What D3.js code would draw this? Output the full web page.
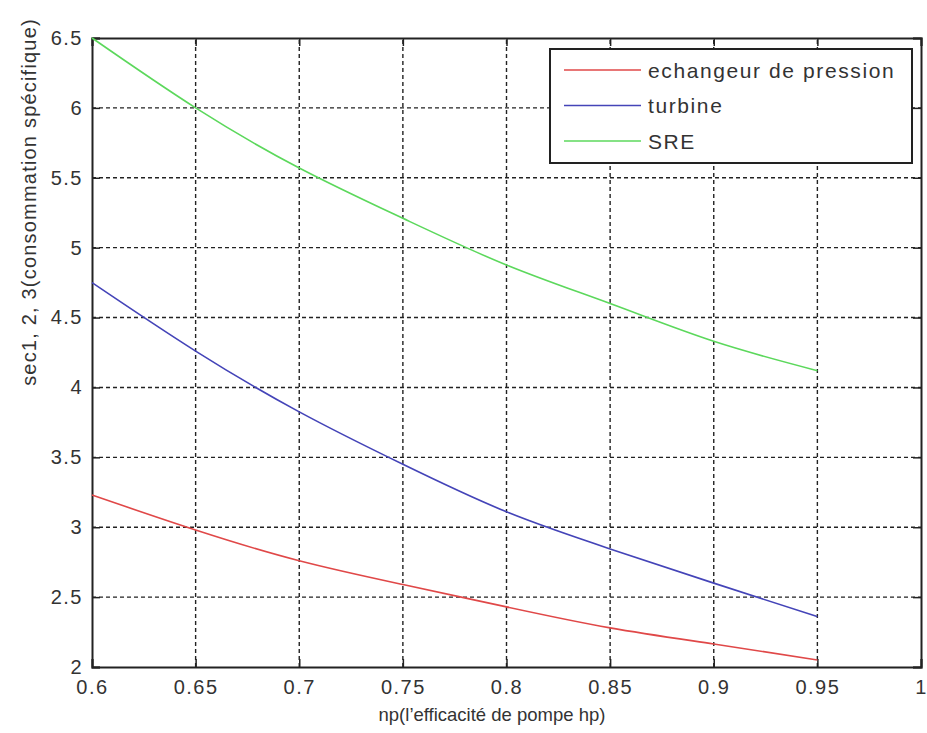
<!DOCTYPE html>
<html>
<head>
<meta charset="utf-8">
<script src="https://d3js.org/d3.v7.min.js"></script>
<style>
  body { margin: 0; background: #fff; }
  text { font-family: "Liberation Sans", Arial, sans-serif; fill: #333; }
</style>
</head>
<body>
<script>
// values
const np = [0.6, 0.65, 0.7, 0.75, 0.8, 0.85, 0.9, 0.95];
const echangeur = [3.23, 2.98, 2.76, 2.59, 2.43, 2.28, 2.165, 2.05];
const turbine = [4.75, 4.26, 3.825, 3.45, 3.11, 2.845, 2.60, 2.36];
const sre = [6.5, 6.0, 5.57, 5.21, 4.876, 4.60, 4.33, 4.12];
const seriesNames = ["echangeur de pression", "turbine", "SRE"];
const seriesColors = ["#e04848", "#4444b8", "#5cd85c"];
const xTicks = [0.6, 0.65, 0.7, 0.75, 0.8, 0.85, 0.9, 0.95, 1];
const yTicks = [2, 2.5, 3, 3.5, 4, 4.5, 5, 5.5, 6, 6.5];

const width = 927, height = 733;
const margin = {top: 38, right: 6, bottom: 66, left: 92};

const svg = d3.select("body").append("svg")
    .attr("width", width)
    .attr("height", height);

const x = d3.scaleLinear().domain([0.6, 1]).range([margin.left, width - margin.right]);
const y = d3.scaleLinear().domain([2, 6.5]).range([height - margin.bottom, margin.top]);

// grid
svg.append("g")
    .selectAll("line")
    .data(xTicks.slice(1, -1))
    .join("line")
    .attr("x1", d => x(d)).attr("x2", d => x(d))
    .attr("y1", y(2)).attr("y2", y(6.5))
    .attr("stroke", "#222").attr("stroke-width", 1.4)
    .attr("stroke-dasharray", "4,3");

svg.append("g")
    .selectAll("line")
    .data(yTicks.slice(1, -1))
    .join("line")
    .attr("x1", x(0.6)).attr("x2", x(1))
    .attr("y1", d => y(d)).attr("y2", d => y(d))
    .attr("stroke", "#222").attr("stroke-width", 1.4)
    .attr("stroke-dasharray", "4,3");

// axes
const xaxis = d3.axisBottom(x).tickValues(xTicks).tickSize(-8).tickPadding(13)
    .tickFormat(d => d3.format("")(d));
const yaxis = d3.axisLeft(y).tickValues(yTicks).tickSize(-8).tickPadding(9)
    .tickFormat(d => d3.format("")(d));

svg.append("g")
    .attr("transform", `translate(0, ${y(2)})`)
    .call(xaxis);
svg.append("g")
    .attr("transform", `translate(${x(0.6)}, 0)`)
    .call(yaxis);
svg.append("g")
    .attr("transform", `translate(0, ${y(6.5)})`)
    .call(d3.axisTop(x).tickValues(xTicks).tickSize(-8).tickFormat(""));
svg.append("g")
    .attr("transform", `translate(${x(1)}, 0)`)
    .call(d3.axisRight(y).tickValues(yTicks).tickSize(-8).tickFormat(""));

svg.selectAll(".domain").attr("stroke", "#222").attr("stroke-width", 2);
svg.selectAll(".tick line").attr("stroke", "#222").attr("stroke-width", 1.5);
svg.selectAll(".tick text").attr("font-size", 20).attr("fill", "#444")
    .style("letter-spacing", "1.5px")
    .style("font-family", "'Liberation Sans', Arial, sans-serif");

// lines
const all = [echangeur, turbine, sre];
const line = d3.line()
    .x((d, i) => x(np[i]))
    .y(d => y(d))
    .curve(d3.curveNatural);

svg.append("g")
    .selectAll("path")
    .data(all)
    .join("path")
    .attr("d", d => line(d))
    .attr("fill", "none")
    .attr("stroke", (d, i) => seriesColors[i])
    .attr("stroke-width", 1.6);

// legend
const legend = svg.append("g");
legend.append("rect")
    .attr("x", 550).attr("y", 49)
    .attr("width", 362).attr("height", 114)
    .attr("fill", "#fff").attr("stroke", "#222").attr("stroke-width", 2);
seriesNames.forEach((name, i) => {
    const ly = 70 + i * 35.5;
    legend.append("line")
        .attr("x1", 564).attr("x2", 641)
        .attr("y1", ly).attr("y2", ly)
        .attr("stroke", seriesColors[i]).attr("stroke-width", 1.6);
    legend.append("text")
        .attr("x", 648).attr("y", ly + 7.5)
        .attr("font-size", 21)
        .style("letter-spacing", "1.6px")
        .text(name);
});

// labels
svg.append("text")
    .attr("x", 492).attr("y", 721)
    .attr("text-anchor", "middle")
    .attr("font-size", 18.5)
    .text("np(l’efficacité de pompe hp)");

svg.append("text")
    .attr("transform", "translate(36, 202) rotate(-90)")
    .attr("text-anchor", "middle")
    .attr("font-size", 20)
    .style("letter-spacing", "1.2px")
    .text("sec1, 2, 3(consommation spécifique)");
</script>
</body>
</html>
